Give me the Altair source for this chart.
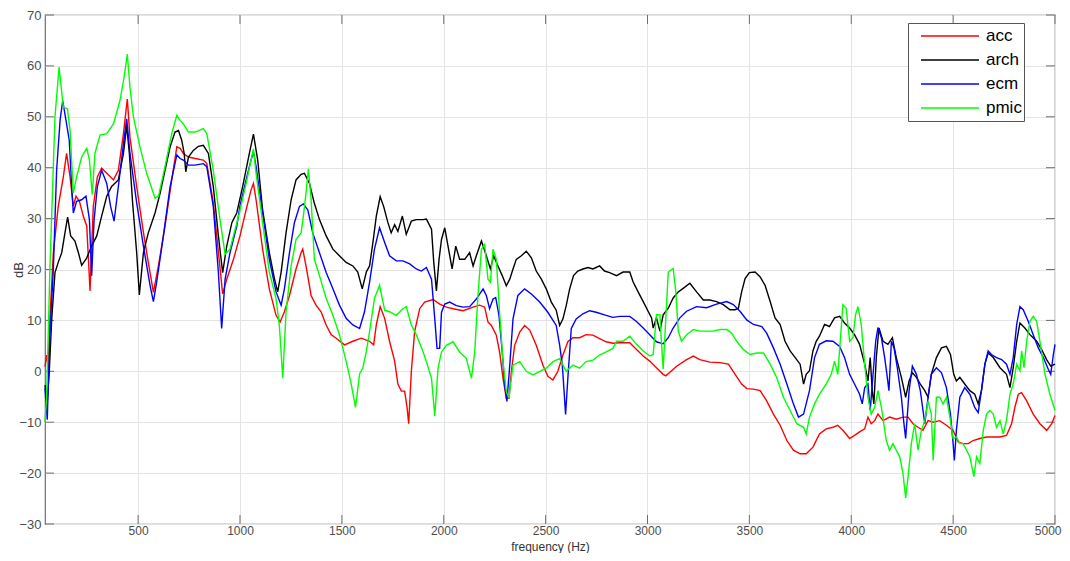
import altair as alt
import pandas as pd

# ---------------- data ----------------
series = ["acc", "arch", "ecm", "pmic"]
colors = ["#ff0000", "#000000", "#0000ff", "#00ff00"]
x_ticks = [500, 1000, 1500, 2000, 2500, 3000, 3500, 4000, 4500, 5000]
y_ticks = [-30, -20, -10, 0, 10, 20, 30, 40, 50, 60, 70]

acc_f = [43, 51, 59, 67, 84, 108, 133, 149, 166, 182, 195, 212, 231, 248, 264, 280, 300, 321, 346, 379,
         403, 428, 447, 460, 493, 526, 550, 575, 600, 632, 665, 690, 706, 722, 747, 780, 820, 837, 869, 894,
         915, 935, 968, 1000, 1030, 1054, 1066, 1079, 1111, 1144, 1177, 1197, 1218, 1243, 1275, 1300, 1308,
         1324, 1349, 1373, 1398, 1423, 1447, 1472, 1513, 1554, 1595, 1636, 1656, 1669, 1688, 1710, 1734, 1759,
         1775, 1792, 1808, 1820, 1828, 1841, 1857, 1882, 1906, 1948, 1980, 2013, 2046, 2095, 2144, 2176, 2201,
         2217, 2234, 2258, 2274, 2291, 2307, 2320, 2332, 2348, 2373, 2397, 2422, 2454, 2487, 2511, 2536, 2560,
         2585, 2609, 2634, 2667, 2699, 2732, 2765, 2797, 2830, 2864, 2913, 2946, 2979, 3011, 3044, 3077, 3090,
         3110, 3143, 3192, 3225, 3257, 3306, 3356, 3397, 3430, 3462, 3487, 3520, 3553, 3585, 3618, 3651, 3684,
         3716, 3749, 3779, 3812, 3844, 3877, 3910, 3934, 3959, 3992, 4016, 4041, 4066, 4082, 4098, 4115, 4131,
         4156, 4188, 4221, 4254, 4279, 4303, 4328, 4352, 4377, 4402, 4434, 4467, 4500, 4525, 4549, 4574, 4598,
         4631, 4664, 4697, 4730, 4762, 4787, 4803, 4820, 4836, 4861, 4893, 4926, 4959, 4984, 5000]
acc_db = [0.9, 3.2, 0.6, 10.3, 23.3, 32.4, 38.2, 42.8, 38.2, 32.4, 34.4, 33.4, 30.5, 28.5, 15.8, 32.4, 38.2, 39.9, 38.9, 37.6,
          39.5, 46.7, 53.5, 46.0, 36.3, 27.3, 21.4, 15.5, 20.8, 28.5, 37.6, 44.1, 43.8, 42.8, 42.1, 41.8, 41.5, 40.8, 33.1, 23.4,
          15.2, 18.1, 22.0, 26.6, 31.7, 35.6, 36.9, 33.7, 24.0, 16.2, 11.0, 9.7, 11.7, 14.9, 20.1, 23.3, 24.0,
          20.7, 14.9, 13.0, 11.7, 9.1, 7.2, 6.5, 5.2, 5.9, 6.5, 5.9, 5.2, 9.1, 12.7, 10.4, 5.9, 2.0,
          -2.5, -3.9, -3.9, -7.1, -10.3, 0.0, 7.8, 12.3, 13.6, 14.1, 13.2, 12.6, 12.3, 11.9, 12.6, 13.0, 12.6,
          9.7, 9.0, 7.1, 3.8, -1.4, -5.3, -5.3, 0.0, 5.1, 7.7, 9.0, 8.1, 5.1, 1.2, -1.0, -1.7, 0.0,
          3.2, 5.8, 6.6, 6.6, 7.2, 7.1, 6.4, 5.8, 5.5, 5.6, 5.6, 4.3, 3.0, 2.0, 0.7, -0.6, -0.9,
          -0.2, 1.0, 2.3, 3.0, 2.3, 1.8, 1.7, 1.4, -0.6, -2.5, -3.4, -3.5, -3.8, -5.8, -8.4, -10.6, -13.6,
          -15.5, -16.2, -16.2, -14.9, -12.3, -11.3, -11.0, -10.6, -11.6, -13.2, -12.6, -11.9, -11.3, -9.0, -10.3, -9.7, -8.4,
          -9.7, -9.0, -9.4, -9.0, -9.0, -10.3, -11.0, -11.6, -9.7, -10.0, -9.7, -10.6, -11.6, -13.9, -14.2, -14.2, -13.6,
          -13.2, -12.9, -12.9, -12.9, -12.6, -10.3, -7.1, -4.5, -4.2, -5.8, -8.4, -10.3, -11.6, -10.3, -8.7]

arch_f = [43, 54, 64, 76, 92, 108, 125, 141, 154, 169, 190, 207, 223, 248, 272, 297, 321, 346, 370, 403,
          428, 444, 457, 473, 493, 506, 526, 550, 583, 608, 632, 657, 681, 698, 714, 726, 734, 747, 771, 796,
          820, 845, 869, 894, 915, 935, 960, 984, 1013, 1046, 1066, 1087, 1111, 1144, 1169, 1185, 1202, 1226,
          1251, 1275, 1300, 1316, 1341, 1365, 1390, 1423, 1456, 1488, 1521, 1554, 1578, 1600, 1620, 1636, 1652,
          1669, 1688, 1705, 1726, 1742, 1759, 1775, 1797, 1816, 1841, 1865, 1898, 1915, 1940, 1951, 1964, 1977,
          1989, 2005, 2021, 2041, 2059, 2078, 2103, 2127, 2144, 2160, 2185, 2209, 2229, 2245, 2266, 2287, 2307,
          2324, 2340, 2356, 2381, 2405, 2430, 2454, 2479, 2503, 2528, 2552, 2569, 2585, 2601, 2618, 2637, 2658,
          2683, 2708, 2732, 2765, 2789, 2814, 2848, 2880, 2913, 2929, 2954, 2979, 3003, 3020, 3028, 3044, 3061,
          3077, 3102, 3126, 3151, 3175, 3208, 3241, 3274, 3306, 3339, 3372, 3405, 3430, 3446, 3462, 3479, 3500,
          3528, 3552, 3577, 3602, 3626, 3651, 3675, 3700, 3725, 3749, 3766, 3779, 3795, 3812, 3828, 3844, 3869,
          3893, 3918, 3943, 3967, 3992, 4016, 4041, 4066, 4082, 4093, 4103, 4111, 4123, 4136, 4156, 4180, 4202,
          4221, 4246, 4267, 4284, 4300, 4320, 4339, 4361, 4377, 4393, 4418, 4443, 4467, 4487, 4503, 4516, 4533,
          4557, 4582, 4606, 4623, 4639, 4656, 4672, 4697, 4730, 4762, 4779, 4795, 4812, 4828, 4852, 4877, 4910,
          4934, 4959, 4979, 5000]
arch_db = [-2.7, -5.9, 0.0, 10.3, 19.4, 21.4, 23.3, 27.2, 30.3, 26.6, 25.6, 23.3, 20.8, 22.3, 24.6, 26.6, 30.5, 34.4, 36.3, 37.6,
           42.8, 48.3, 42.8, 33.1, 23.3, 15.0, 23.3, 27.2, 31.1, 35.0, 39.5, 44.1, 47.0, 47.3, 45.4, 42.8, 39.2, 42.1, 43.4, 44.2,
           44.4, 42.8, 36.3, 26.6, 19.4, 24.6, 29.2, 31.1, 36.3, 42.8, 46.6, 41.5, 31.7, 23.3, 18.2, 15.6, 19.5, 27.2,
           33.7, 37.6, 38.7, 38.9, 36.9, 33.0, 29.8, 26.6, 24.0, 22.7, 21.4, 20.7, 19.5, 16.2, 19.5, 20.7, 25.2,
           30.5, 34.3, 32.4, 29.2, 27.2, 28.8, 27.5, 30.5, 26.9, 29.5, 29.8, 29.8, 29.9, 27.9, 21.4, 15.8, 22.0,
           25.9, 28.2, 24.6, 20.1, 24.6, 22.0, 22.0, 23.3, 20.7, 22.7, 25.6, 22.7, 20.1, 22.7, 20.7, 18.8, 16.8,
           18.1, 20.1, 22.0, 22.7, 23.6, 22.3, 19.7, 18.1, 16.2, 13.6, 12.0, 9.0, 10.3, 12.9, 16.2, 18.8, 19.7,
           20.1, 20.4, 20.1, 20.7, 19.7, 19.4, 18.8, 19.5, 19.5, 17.6, 15.6, 13.7, 11.8, 10.5, 8.5, 10.5, 7.9,
           11.1, 12.4, 14.4, 15.6, 16.3, 17.3, 15.6, 14.0, 14.0, 13.7, 13.1, 12.1, 12.1, 12.4, 15.6, 18.2, 19.4,
           19.5, 18.6, 16.9, 13.7, 10.5, 9.2, 5.9, 4.0, 2.7, 1.4, -2.5, -0.6, 0.1, 4.0, 5.9, 6.9, 9.2,
           8.8, 10.5, 10.8, 9.5, 8.5, 7.2, 5.3, 1.4, -1.9, 2.7, -3.8, -6.4, 2.7, 8.5, 5.9, 5.3, 6.6,
           2.7, -1.2, -5.1, -1.9, -0.3, -1.2, -2.5, -3.8, -5.1, -0.6, 2.7, 4.6, 4.9, 3.3, -0.6, -1.9, -1.2,
           -2.5, -3.8, -4.5, -6.4, -3.8, 1.4, 3.6, 2.7, 0.7, -0.6, -3.2, 0.7, 5.9, 9.5, 8.5, 7.2, 5.9,
           4.3, 2.3, 1.0, 1.4]

ecm_f = [43, 54, 67, 84, 100, 117, 130, 146, 162, 174, 182, 198, 223, 244, 261, 272, 284, 300, 321, 346,
         365, 382, 403, 428, 444, 460, 493, 526, 559, 575, 591, 624, 657, 690, 706, 722, 747, 780, 820, 837,
         869, 894, 910, 927, 951, 984, 1000, 1030, 1054, 1066, 1079, 1111, 1144, 1177, 1202, 1218, 1243, 1267,
         1292, 1311, 1333, 1357, 1390, 1423, 1456, 1488, 1521, 1554, 1587, 1611, 1636, 1660, 1685, 1710, 1734,
         1767, 1800, 1833, 1865, 1890, 1915, 1940, 1956, 1967, 1980, 1989, 2005, 2029, 2062, 2095, 2127, 2160,
         2193, 2209, 2225, 2242, 2255, 2271, 2287, 2299, 2310, 2324, 2340, 2364, 2397, 2430, 2471, 2511, 2552,
         2569, 2582, 2590, 2598, 2609, 2626, 2650, 2683, 2716, 2748, 2797, 2830, 2864, 2913, 2946, 2979, 3011,
         3044, 3077, 3102, 3126, 3159, 3192, 3241, 3290, 3339, 3389, 3421, 3454, 3487, 3520, 3561, 3585, 3618,
         3651, 3684, 3716, 3741, 3766, 3795, 3820, 3844, 3877, 3910, 3943, 3967, 3992, 4016, 4041, 4054, 4066,
         4082, 4093, 4107, 4120, 4131, 4148, 4164, 4175, 4185, 4197, 4210, 4226, 4246, 4257, 4267, 4284, 4300,
         4320, 4339, 4361, 4377, 4393, 4418, 4443, 4467, 4487, 4500, 4506, 4516, 4533, 4557, 4582, 4606, 4623,
         4639, 4656, 4672, 4688, 4713, 4738, 4762, 4779, 4795, 4812, 4828, 4844, 4869, 4893, 4918, 4943, 4967,
         4979, 4992, 5000]
ecm_db = [-3.3, -9.5, 7.1, 20.1, 39.5, 49.3, 53.2, 49.3, 45.4, 36.3, 31.1, 33.4, 33.7, 34.4, 29.8, 18.8, 29.8, 36.3, 39.5, 36.9,
          32.4, 29.5, 36.3, 44.7, 49.6, 42.8, 33.1, 24.6, 16.8, 13.7, 17.5, 26.6, 36.3, 42.5, 41.8, 41.5, 40.5, 40.5, 40.8, 40.2,
          32.4, 19.4, 8.4, 18.1, 23.3, 28.5, 32.5, 37.6, 41.5, 43.1, 40.2, 31.1, 22.0, 15.6, 13.0, 16.2, 23.3, 29.2,
          32.4, 32.9, 31.7, 27.2, 23.3, 19.4, 16.2, 13.0, 10.4, 9.1, 8.4, 11.7, 17.5, 24.0, 28.2, 25.3, 22.7,
          21.7, 21.7, 21.1, 20.1, 19.7, 20.4, 18.1, 10.3, 4.5, 4.5, 11.6, 13.2, 13.6, 12.9, 12.6, 12.7, 14.2,
          16.2, 14.9, 12.3, 14.2, 14.5, 11.0, 3.8, -2.7, -5.9, 1.2, 10.3, 14.9, 16.2, 15.2, 13.6, 11.6, 9.0,
          5.1, 1.2, -3.6, -8.5, -1.4, 8.4, 10.3, 11.3, 11.9, 11.6, 11.0, 10.6, 10.8, 10.8, 9.8, 8.5, 7.2,
          5.8, 5.4, 6.6, 8.5, 10.5, 11.8, 12.7, 12.5, 13.2, 13.7, 13.1, 11.8, 10.1, 9.2, 8.8, 7.5, 4.6,
          1.4, -2.5, -6.4, -9.0, -8.4, -3.8, 2.7, 5.3, 6.0, 5.9, 4.9, 2.7, -0.6, -2.5, -4.5, -6.4, -3.2,
          -2.5, -7.7, -0.6, 5.9, 8.6, 6.6, 2.7, -0.6, -3.8, 5.9, 4.6, 0.7, -5.1, -9.7, -13.2, -3.8, 1.0,
          -0.6, -3.8, -10.3, -5.1, -0.6, 0.7, -0.3, -3.2, -8.4, -14.2, -17.5, -11.6, -5.1, -3.2, -4.5, -7.1, -8.1,
          -3.8, 1.4, 4.0, 3.3, 2.7, 2.3, 1.4, -0.6, 2.7, 9.2, 12.7, 12.1, 9.8, 7.2, 4.6, 2.7, 0.4,
          -0.6, 3.3, 5.3]

pmic_f = [43, 51, 67, 92, 112, 133, 153, 166, 182, 198, 223, 248, 261, 275, 288, 313, 346, 379, 411, 431,
          447, 460, 477, 509, 542, 583, 600, 632, 665, 690, 706, 722, 747, 780, 820, 837, 869, 902, 927, 951,
          997, 1030, 1066, 1079, 1111, 1144, 1177, 1193, 1210, 1226, 1251, 1275, 1300, 1311, 1324, 1336, 1349,
          1365, 1390, 1423, 1456, 1488, 1521, 1546, 1567, 1587, 1603, 1620, 1636, 1660, 1685, 1710, 1734, 1767,
          1800, 1816, 1841, 1865, 1898, 1915, 1940, 1956, 1972, 1989, 2013, 2046, 2078, 2111, 2136, 2152, 2168,
          2185, 2201, 2217, 2229, 2242, 2258, 2274, 2291, 2307, 2320, 2340, 2373, 2405, 2438, 2471, 2503, 2536,
          2569, 2601, 2634, 2667, 2699, 2732, 2765, 2797, 2830, 2848, 2880, 2913, 2946, 2979, 3011, 3028, 3044,
          3061, 3069, 3077, 3090, 3102, 3126, 3139, 3151, 3167, 3192, 3225, 3257, 3290, 3323, 3356, 3389, 3413,
          3438, 3470, 3503, 3536, 3569, 3602, 3634, 3667, 3700, 3733, 3766, 3779, 3795, 3820, 3844, 3877, 3902,
          3918, 3934, 3946, 3959, 3975, 3992, 4008, 4021, 4033, 4049, 4066, 4082, 4098, 4115, 4131, 4148, 4172,
          4188, 4205, 4221, 4238, 4254, 4267, 4279, 4295, 4311, 4328, 4344, 4361, 4377, 4393, 4402, 4418, 4434,
          4451, 4467, 4484, 4500, 4516, 4533, 4549, 4566, 4582, 4602, 4615, 4631, 4648, 4664, 4680, 4697, 4713,
          4730, 4746, 4762, 4779, 4795, 4812, 4828, 4836, 4848, 4861, 4877, 4893, 4910, 4926, 4951, 4975, 5000]
pmic_db = [-10.0, -5.0, 20.0, 50.0, 59.7, 51.9, 51.6, 47.3, 35.0, 38.2, 42.1, 43.8, 41.5, 34.7, 42.8, 46.4, 46.7, 48.6, 53.2, 57.7,
           62.3, 55.8, 50.0, 44.1, 38.9, 34.0, 34.4, 40.2, 46.7, 50.3, 49.3, 48.6, 47.0, 47.0, 47.7, 46.7, 39.5, 29.8, 23.0, 24.0,
           31.1, 36.9, 43.7, 38.9, 29.2, 19.5, 14.3, 9.1, -1.3, 11.7, 20.7, 25.9, 27.2, 30.5, 35.0, 39.8, 33.7,
           22.0, 18.8, 14.3, 11.0, 7.2, 2.0, -2.5, -7.1, -0.5, 0.7, 3.9, 7.8, 14.3, 16.9, 12.0, 11.7, 11.0,
           12.3, 12.7, 9.1, 7.2, 3.9, 1.9, -1.4, -8.8, 0.6, 3.8, 5.1, 5.8, 3.8, 2.5, -1.4, 3.8, 14.9,
           24.0, 24.9, 18.1, 17.5, 24.0, 22.0, 11.6, 1.9, -4.0, -5.3, 1.2, 1.9, 0.0, -0.7, 0.0, 0.6, 1.9,
           2.5, 0.0, 1.2, 0.6, 1.9, 2.2, 3.2, 3.8, 4.5, 5.9, 5.9, 6.9, 5.3, 4.0, 3.0, 3.3, 11.1,
           11.1, 5.3, 0.4, 10.5, 19.5, 20.2, 15.6, 7.9, 5.9, 7.2, 8.2, 7.9, 7.9, 7.9, 8.2, 8.2, 7.5,
           5.9, 4.3, 3.3, 3.6, 3.6, 1.4, -1.2, -5.1, -7.7, -10.3, -11.0, -12.3, -9.0, -6.4, -4.5, -2.5, -0.6,
           2.0, -0.6, 5.9, 13.1, 12.4, 5.9, 6.6, 11.1, 12.7, 9.2, 1.4, -5.1, -8.4, -7.1, -3.8, -7.1, -13.6,
           -15.5, -14.2, -15.5, -16.8, -20.1, -24.9, -20.7, -14.2, -10.3, -15.5, -11.6, -9.7, -5.8, -8.4, -17.5, -5.1, -5.1,
           -6.4, -5.1, -9.0, -13.2, -12.9, -14.2, -14.2, -15.5, -16.8, -20.7, -16.8, -18.1, -11.6, -8.4, -7.7, -8.4, -11.0,
           -9.7, -12.3, -9.7, -4.5, -2.5, 1.4, 0.1, 4.0, 0.7, 5.9, 9.8, 10.8, 9.8, 5.9, -0.6, -4.5, -7.7]

# ---------------- build the table ----------------
rows = []
for name, fs, ds in zip(series, [acc_f, arch_f, ecm_f, pmic_f], [acc_db, arch_db, ecm_db, pmic_db]):
    for f, d in zip(fs, ds):
        rows.append({"series": name, "freq": f, "dB": d})
df = pd.DataFrame(rows)
xt = pd.DataFrame({"freq": x_ticks})
yt = pd.DataFrame({"dB": y_ticks})

W, H = 1010, 509
FONT = "Liberation Sans"
AX = "#6e6e6e"

xscale = alt.Scale(domain=[43, 5000], nice=False, zero=False)
yscale = alt.Scale(domain=[-30, 70], nice=False, zero=False)

x_axis = alt.Axis(values=x_ticks, format="d", grid=True, ticks=False, domain=False, labelPadding=1,
                  labelFlush=True, labelFlushOffset=6,
                  labelFont=FONT, labelFontSize=12, labelColor="#4d4d4d",
                  titleFont=FONT, titleFontSize=12, titleFontWeight="normal", titleColor="#333333",
                  titleBaseline="alphabetic", titleY=26.5,
                  gridColor="#e4e4e4", gridWidth=1)
y_axis = alt.Axis(values=y_ticks, format="d", grid=True, ticks=False, domain=False, labelPadding=4,
                  labelFont=FONT, labelFontSize=13, labelColor="#4d4d4d",
                  titleFont=FONT, titleFontSize=13, titleFontWeight="normal", titleColor="#333333",
                  titleBaseline="alphabetic", titleAngle=270, titleX=-23, titleY=H / 2,
                  gridColor="#e4e4e4", gridWidth=1)

X = alt.X("freq:Q", scale=xscale, axis=x_axis, title="frequency (Hz)")
Y = alt.Y("dB:Q", scale=yscale, axis=y_axis, title="dB")

tick_len = 9
left_ticks = alt.Chart(yt).mark_rule(color=AX, strokeWidth=1).encode(
    y=Y, x=alt.value(0), x2=alt.value(tick_len))
right_ticks = alt.Chart(yt).mark_rule(color=AX, strokeWidth=1).encode(
    y=Y, x=alt.value(W - tick_len), x2=alt.value(W))
bottom_ticks = alt.Chart(xt).mark_rule(color=AX, strokeWidth=1).encode(
    x=X, y=alt.value(H - tick_len), y2=alt.value(H))
top_ticks = alt.Chart(xt).mark_rule(color=AX, strokeWidth=1).encode(
    x=X, y=alt.value(0), y2=alt.value(tick_len))

lines = alt.Chart(df).mark_line(strokeWidth=1.4, interpolate="linear").encode(
    x=X,
    y=Y,
    color=alt.Color(
        "series:N",
        scale=alt.Scale(domain=series, range=colors),
        legend=alt.Legend(
            title=None, orient="none", legendX=863, legendY=8,
            symbolType="stroke", symbolSize=3364, symbolStrokeWidth=1.5,
            clipHeight=22, labelFontSize=17, labelFont=FONT, labelColor="#000000",
            labelOffset=6, padding=2, symbolOffset=10,
            strokeColor="#555555", fillColor="#ffffff",
            labelExpr="datum.label + '\u00a0\u00a0\u00a0\u00a0\u00a0'",
        ),
    ),
)

chart = alt.layer(left_ticks, right_ticks, bottom_ticks, top_ticks, lines).properties(
    width=W, height=H,
    background="#ffffff",
    padding={"left": 37, "top": 7, "right": 7, "bottom": 29},
    autosize=alt.AutoSizeParams(type="none"),
).configure_view(
    stroke=AX, strokeWidth=1.2
)

chart.save("out.html", embed_options={"renderer": "svg", "actions": False})
